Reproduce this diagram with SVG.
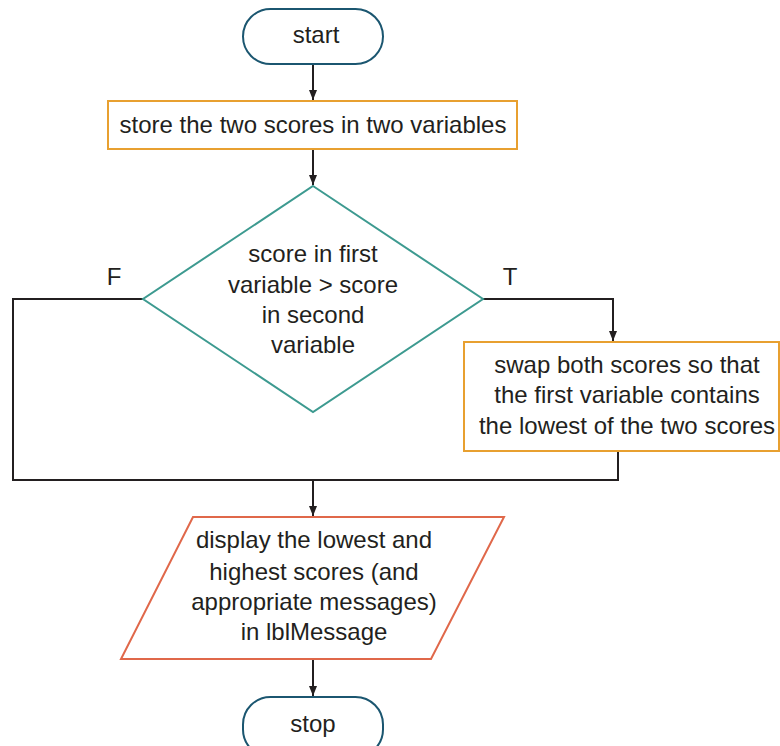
<svg xmlns="http://www.w3.org/2000/svg" width="780" height="746" viewBox="0 0 780 746">
<style>
text{font-family:"Liberation Sans",Arial,sans-serif;font-size:24px;fill:#231f20;text-anchor:middle}
.term{fill:#fff;stroke:#1b5670;stroke-width:2}
.proc{fill:#fff;stroke:#e8a030;stroke-width:2}
.dec{fill:#fff;stroke:#3d9a90;stroke-width:2}
.io{fill:#fff;stroke:#e0684a;stroke-width:2}
.conn{fill:none;stroke:#231f20;stroke-width:2}
</style>
<defs>
<marker id="ah" viewBox="0 0 10 8" refX="10" refY="4" markerWidth="10" markerHeight="8" markerUnits="userSpaceOnUse" orient="auto">
<path d="M0,0 L10,4 L0,8 Z" fill="#231f20"/>
</marker>
</defs>
<g id="connectors">
<line class="conn" x1="313" y1="64" x2="313" y2="100" marker-end="url(#ah)"/>
<line class="conn" x1="313" y1="149" x2="313" y2="185" marker-end="url(#ah)"/>
<polyline class="conn" points="483,299 613,299 613,341" marker-end="url(#ah)"/>
<polyline class="conn" points="143,299 13,299 13,480 618,480 618,451"/>
<line class="conn" x1="313" y1="480" x2="313" y2="516" marker-end="url(#ah)"/>
<line class="conn" x1="313" y1="659" x2="313" y2="696" marker-end="url(#ah)"/>
<text x="114" y="285">F</text>
<text x="510" y="285">T</text>
</g>
<g id="start">
<rect class="term" x="243" y="9" width="140" height="55" rx="27.5"/>
<text x="316" y="43">start</text>
</g>
<g id="store">
<rect class="proc" x="108" y="101" width="409" height="48"/>
<text x="313" y="133">store the two scores in two variables</text>
</g>
<g id="decision">
<polygon class="dec" points="313,186 483,299 313,412 143,299"/>
<text x="313" y="262">score in first</text>
<text x="313" y="293">variable &gt; score</text>
<text x="313" y="323">in second</text>
<text x="313" y="353">variable</text>
</g>
<g id="swap">
<rect class="proc" x="464" y="342" width="315" height="109"/>
<text x="627" y="373">swap both scores so that</text>
<text x="627" y="403">the first variable contains</text>
<text x="627" y="434">the lowest of the two scores</text>
</g>
<g id="display">
<polygon class="io" points="193,517 504,517 431,659 121,659"/>
<text x="314" y="548">display the lowest and</text>
<text x="314" y="580">highest scores (and</text>
<text x="314" y="610">appropriate messages)</text>
<text x="314" y="640">in lblMessage</text>
</g>
<g id="stop">
<rect class="term" x="243" y="697" width="140" height="60" rx="27.5"/>
<text x="313" y="732">stop</text>
</g>
</svg>
